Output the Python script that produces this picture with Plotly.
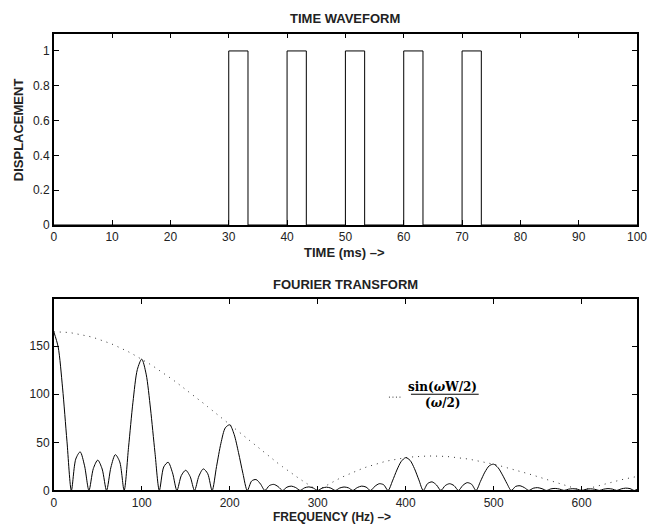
import plotly.graph_objects as go

# ---------------- data ----------------
# Time waveform: breakpoints (ms) and level held after each breakpoint
time_breaks = [0, 30, 33.3, 40, 43.3, 50, 53.3, 60, 63.3, 70, 73.3, 100]
time_levels = [0, 1, 0, 1, 0, 1, 0, 1, 0, 1, 0, 0]

# Fourier transform, sampled every 5 Hz from 0 to 665 Hz
freq_hz = list(range(0, 666, 5))
spectrum = [
    165.0, 149.1, 106.6, 51.2, 0, 32.6, 40.1, 25.6, 0, 22.8,
    31.5, 22.3, 0, 24.2, 37.2, 29.7, 0, 44.9, 91.7, 125.7,
    136.5, 120.9, 84.7, 39.8, 0, 24.4, 29.3, 18.3, 0, 15.5,
    21.0, 14.5, 0, 15.0, 22.4, 17.4, 0, 24.8, 49.0, 65.1,
    68.2, 58.3, 39.3, 17.7, 0, 9.9, 11.3, 6.7, 0, 5.0,
    6.3, 4.0, 0, 3.4, 4.5, 3.0, 0, 2.7, 3.7, 2.5,
    0, 2.4, 3.4, 2.4, 0, 2.5, 3.6, 2.7, 0, 3.0,
    4.5, 3.5, 0, 4.3, 7.0, 5.9, 0, 9.9, 21.2, 30.2,
    34.1, 31.3, 22.7, 11.0, 0, 7.2, 8.9, 5.7, 0, 5.1,
    7.0, 5.0, 0, 5.3, 8.1, 6.4, 0, 9.4, 19.0, 25.6,
    27.3, 23.7, 16.2, 7.4, 0, 4.2, 4.9, 2.9, 0, 2.3,
    2.9, 1.8, 0, 1.6, 2.1, 1.4, 0, 1.3, 1.8, 1.3,
    0, 1.2, 1.7, 1.2, 0, 1.3, 1.9, 1.4, 0, 1.6,
    2.4, 1.9, 0, 2.4,
]
envelope = [
    165.0, 164.9, 164.7, 164.3, 163.8, 163.1, 162.3, 161.3, 160.2, 159.0,
    157.6, 156.0, 154.4, 152.6, 150.6, 148.6, 146.4, 144.1, 141.6, 139.1,
    136.5, 133.7, 130.9, 127.9, 124.9, 121.8, 118.6, 115.3, 111.9, 108.5,
    105.0, 101.5, 97.9, 94.3, 90.7, 87.0, 83.3, 79.5, 75.8, 72.0,
    68.2, 64.5, 60.7, 57.0, 53.2, 49.5, 45.8, 42.2, 38.6, 35.0,
    31.5, 28.1, 24.7, 21.3, 18.0, 14.8, 11.7, 8.7, 5.7, 2.8,
    0.0, 2.7, 5.3, 7.8, 10.2, 12.6, 14.8, 16.9, 18.9, 20.7,
    22.5, 24.2, 25.7, 27.2, 28.5, 29.7, 30.8, 31.8, 32.7, 33.5,
    34.1, 34.7, 35.1, 35.5, 35.7, 35.8, 35.8, 35.8, 35.6, 35.4,
    35.0, 34.6, 34.1, 33.5, 32.8, 32.0, 31.2, 30.3, 29.4, 28.4,
    27.3, 26.2, 25.0, 23.8, 22.5, 21.2, 19.9, 18.5, 17.2, 15.8,
    14.3, 12.9, 11.4, 10.0, 8.5, 7.1, 5.7, 4.2, 2.8, 1.4,
    0.0, 1.4, 2.7, 4.0, 5.3, 6.5, 7.7, 8.9, 10.0, 11.1,
    12.1, 13.1, 14.0, 14.9,
]

top_xticks = [0, 10, 20, 30, 40, 50, 60, 70, 80, 90, 100]
top_xlabels = ["0", "10", "20", "30", "40", "50", "60", "70", "80", "90", ""]
top_yticks = [0, 0.2, 0.4, 0.6, 0.8, 1]
top_ylabels = ["0", "0.2", "0.4", "0.6", "0.8", "1"]
bot_xticks = [0, 100, 200, 300, 400, 500, 600]
bot_yticks = [0, 50, 100, 150]

# ---------------- figure ----------------
W, H = 647, 531
def px_x(p):
    return p / W
def px_y(p):
    return 1 - p / H

FONT = "Liberation Sans, Arial, Helvetica, sans-serif"
tick_font = dict(family=FONT, size=12, color="#222222")

fig = go.Figure()
fig.add_trace(go.Scatter(x=time_breaks, y=time_levels, mode="lines",
                         line=dict(color="black", width=1, shape="hv"),
                         xaxis="x", yaxis="y", showlegend=False))
fig.add_trace(go.Scatter(x=freq_hz, y=envelope, mode="lines",
                         line=dict(color="#333333", width=1, dash="1px,5px"),
                         xaxis="x2", yaxis="y2", showlegend=False))
fig.add_trace(go.Scatter(x=freq_hz, y=spectrum, mode="lines",
                         line=dict(color="black", width=1, shape="spline", smoothing=0.8),
                         xaxis="x2", yaxis="y2", showlegend=False))

axis_common = dict(showgrid=False, zeroline=False, showline=True, linecolor="black",
                   linewidth=1.5, mirror="ticks", ticks="inside", ticklen=5,
                   tickwidth=1, tickcolor="black", tickfont=tick_font)

xdom = [px_x(51), px_x(637)]
fig.update_layout(
    width=W, height=H,
    margin=dict(l=0, r=0, t=0, b=0),
    paper_bgcolor="white", plot_bgcolor="white",
    xaxis=dict(domain=xdom, range=[0, 100], tickvals=top_xticks, ticktext=top_xlabels,
               anchor="y", **axis_common),
    yaxis=dict(domain=[px_y(228), px_y(34)], range=[0, 1.1], tickvals=top_yticks,
               ticktext=top_ylabels, anchor="x", **axis_common),
    xaxis2=dict(domain=xdom, range=[0, 663], tickvals=bot_xticks, anchor="y2", **axis_common),
    yaxis2=dict(domain=[px_y(497), px_y(303)], range=[0, 199], tickvals=bot_yticks,
                anchor="x2", **axis_common),
)

# last top tick label drawn by hand so it is not dropped at the page edge
fig.add_annotation(xref="x", yref="paper", x=top_xticks[-1], y=px_y(240), text="100",
                   showarrow=False, xanchor="center", yanchor="middle", font=tick_font)

title_font = dict(family=FONT, size=13, color="#222222")
ann = [
    dict(text="<b>TIME WAVEFORM</b>", x=px_x(344), y=px_y(19), size=13),
    dict(text="<b>TIME (ms) –></b>", x=px_x(343), y=px_y(256), size=13),
    dict(text="<b>FOURIER TRANSFORM</b>", x=px_x(344), y=px_y(288), size=13),
    dict(text="<b>FREQUENCY (Hz) –></b>", x=px_x(331), y=px_y(524), size=12),
]
for a in ann:
    sz = a.pop("size")
    fig.add_annotation(xref="paper", yref="paper", showarrow=False,
                       xanchor="center", yanchor="middle",
                       font=dict(family=FONT, size=sz, color="#222222"), **a)
fig.add_annotation(xref="paper", yref="paper", x=px_x(15), y=px_y(131),
                   text="<b>DISPLACEMENT</b>", textangle=-90, showarrow=False,
                   xanchor="center", yanchor="middle", font=title_font)

serif = dict(family="DejaVu Serif, Liberation Serif, serif", size=12, color="black")
fig.add_annotation(xref="x2", yref="y2", x=442, y=108, text="<b>sin(<i>ω</i>W/2)</b>",
                   showarrow=False, xanchor="center", yanchor="middle", font=serif)
fig.add_annotation(xref="x2", yref="y2", x=442, y=91, text="<b>(<i>ω</i>/2)</b>",
                   showarrow=False, xanchor="center", yanchor="middle", font=serif)
fig.add_shape(type="line", xref="x2", yref="y2", x0=406, x1=483, y0=100, y1=100,
              line=dict(color="black", width=1))
fig.add_shape(type="line", xref="x2", yref="y2", x0=381, x1=395, y0=97, y1=97,
              line=dict(color="#333333", width=1, dash="1px,2.5px"))

fig.write_html("out.html")
